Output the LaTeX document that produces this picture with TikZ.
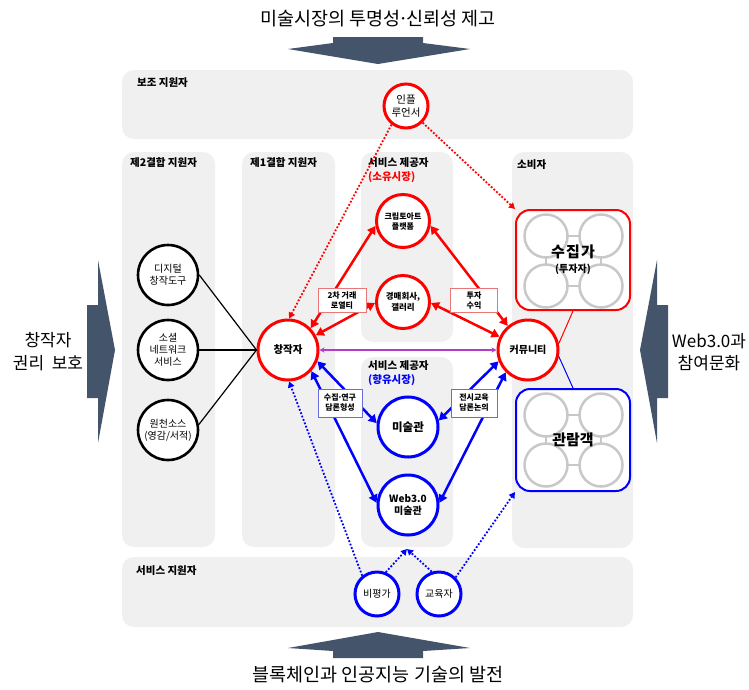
\documentclass[tikz,border=0pt]{standalone}
\usepackage{fontspec}
\setmainfont{Noto Sans CJK KR}
\usetikzlibrary{arrows.meta}
\definecolor{panel}{HTML}{F0F0F0}
\definecolor{slate}{HTML}{44546A}
\definecolor{myred}{HTML}{FF0000}
\definecolor{myblue}{HTML}{0000FF}
\definecolor{mypurple}{HTML}{B23CC8}
\definecolor{lred}{HTML}{E87878}
\definecolor{lblue}{HTML}{6B6BE0}
\definecolor{ringgray}{HTML}{C8C8C8}
\newcommand{\fs}[1]{\fontsize{#1}{#1}\selectfont}
\newcommand{\mdot}{\kern-0.14em·\kern-0.14em}
\begin{document}
\begin{tikzpicture}[x=1pt,y=-1pt,
  panelbox/.style={fill=panel, rounded corners=12pt},
  ptitle/.style={font=\bfseries\fontsize{10.5}{12}\selectfont, anchor=west, inner sep=0pt},
  rnode/.style={circle, draw=myred, line width=3pt, fill=white, inner sep=0pt, align=center},
  bnode/.style={circle, draw=myblue, line width=3pt, fill=white, inner sep=0pt, align=center},
  knode/.style={circle, draw=black, line width=2.6pt, fill=white, inner sep=0pt, align=center, minimum size=60pt, font=\fontsize{10}{12}\selectfont},
  redarrow/.style={{Triangle[length=8pt,width=9pt]}-{Triangle[length=8pt,width=9pt]}, draw=myred, line width=2.5pt},
  bluearrow/.style={{Triangle[length=8pt,width=9pt]}-{Triangle[length=8pt,width=9pt]}, draw=myblue, line width=2.5pt},
  reddot/.style={-{Triangle[length=6pt,width=6.5pt]}, draw=myred, line width=1.8pt, dash pattern=on 1.8pt off 1.8pt},
  bluedot/.style={-{Triangle[length=6pt,width=6.5pt]}, draw=myblue, line width=1.8pt, dash pattern=on 1.8pt off 1.8pt},
  rlab/.style={draw=lred, fill=white, line width=1pt, inner sep=1pt, align=center, font=\bfseries\fontsize{8}{10}\selectfont},
  blab/.style={draw=lblue, fill=white, line width=1pt, inner sep=1pt, align=center, font=\bfseries\fontsize{8}{10}\selectfont},
  ring/.style={draw=ringgray, line width=2.5pt, fill=white},
  bigarrow/.style={fill=slate}
]
\useasboundingbox (0,0) rectangle (749,689);
\fill[white] (0,0) rectangle (749,689);

% panels
\fill[panelbox] (122,70) rectangle (633,139);
\fill[panelbox] (122,152) rectangle (215,547);
\fill[panelbox] (242,152) rectangle (335,547);
\fill[panelbox] (361,152) rectangle (453,342);
\fill[panelbox] (361,357) rectangle (453,547);
\fill[panelbox] (512,152) rectangle (633,548);
\fill[panelbox] (122,557) rectangle (633,627);

% panel titles
\node[ptitle] (pt1) at (137,83) {보조 지원자};
\node[ptitle] (pt2) at (130,163) {제2결합 지원자};
\node[ptitle] (pt3) at (250,163) {제1결합 지원자};
\node[ptitle] (pt4) at (368,163) {서비스 제공자};
\node[ptitle, text=myred] (pt4b) at (368,177) {(소유시장)};
\node[ptitle] (pt5) at (368,366) {서비스 제공자};
\node[ptitle, text=myblue] (pt5b) at (368,380) {(향유시장)};
\node[ptitle] (pt6) at (517,165) {소비자};
\node[ptitle] (pt7) at (136,571) {서비스 지원자};

% big arrows
\fill[bigarrow] (333,37) -- (423,37) -- (423,43) -- (470,49) -- (378,64) -- (288,49) -- (333,43) -- cycle;
\fill[bigarrow] (378,632) -- (470,648) -- (423,651) -- (423,658) -- (333,658) -- (333,651) -- (288,648) -- cycle;
\fill[bigarrow] (87,305) -- (98,305) -- (98,260) -- (115,350) -- (98,443) -- (98,398) -- (87,398) -- cycle;
\fill[bigarrow] (668,305) -- (657,305) -- (657,260) -- (640,350) -- (657,443) -- (657,398) -- (668,398) -- cycle;

% big texts
\node[font=\fs{18.5}] (ttop) at (378,19) {미술시장의 투명성\mdot 신뢰성 제고};
\node[font=\fs{18.5}] (tbot) at (378,675) {블록체인과 인공지능 기술의 발전};
\node[align=center, font=\fontsize{17}{23}\selectfont] (tleft) at (48,352) {창작자\\권리\hspace{0.45em}보호};
\node[align=center, font=\fontsize{17}{22}\selectfont] (tright) at (709,352) {Web3.0과\\참여문화};

% nodes
\node[knode] (dig) at (168,275) {디지털\\창작도구};
\node[knode] (soc) at (168,350) {소셜\\네트워크\\서비스};
\node[knode] (src) at (168,430) {원천소스\\(영감/서적)};

\node[rnode, minimum size=60pt, font=\bfseries\fs{10.5}] (cr) at (288,350) {창작자};
\node[rnode, minimum size=60pt, font=\bfseries\fs{10}] (cm) at (528,350) {커뮤니티};
\node[rnode, minimum size=44pt, font=\fontsize{10.5}{12.5}\selectfont] (inf) at (406,106) {인플\\루언서};
\node[rnode, minimum size=53pt, font=\bfseries\fontsize{8}{10}\selectfont] (cry) at (403,221) {크립토아트\\플랫폼};
\node[rnode, minimum size=53pt, font=\bfseries\fontsize{8.5}{10.5}\selectfont] (auc) at (403,302) {경매회사,\\갤러리};
\node[bnode, minimum size=60pt, font=\bfseries\fs{11.5}] (mus) at (408,427) {미술관};
\node[bnode, minimum size=60pt, font=\bfseries\fontsize{10}{12}\selectfont] (web) at (408,505) {Web3.0\\미술관};
\node[bnode, minimum size=44pt, font=\fs{10}] (cri) at (377,594) {비평가};
\node[bnode, minimum size=44pt, font=\fs{10}] (edu) at (439,594) {교육자};

% consumer boxes
\node[draw=myred, line width=2pt, rounded corners=14pt, fill=white, minimum width=114pt, minimum height=100pt] (col) at (573,260) {};
\node[draw=myblue, line width=2pt, rounded corners=14pt, fill=white, minimum width=114pt, minimum height=102pt] (vis) at (573,440) {};
\foreach \cy in {236,286} {
  \draw[ringgray, line width=2pt] (546,\cy) -- (601,\cy);
}
\foreach \cx in {546,601} {
  \draw[ringgray, line width=2pt] (\cx,236) -- (\cx,286);
}
\foreach \cy in {415,465} {
  \draw[ringgray, line width=2pt] (546,\cy) -- (601,\cy);
}
\foreach \cx in {546,601} {
  \draw[ringgray, line width=2pt] (\cx,415) -- (\cx,465);
}
\foreach \cx in {546,601} {
  \foreach \cy in {236,286,415,465} {
    \draw[ring] (\cx,\cy) circle (21.5pt);
  }
}
\node[font=\bfseries\fs{15}] (coltxt) at (573,252) {수\kern0.08em 집\kern0.08em 가};
\node[font=\bfseries\fs{10}] (coltxt2) at (573,269) {(투자자)};
\node[font=\bfseries\fs{15}] (vistxt) at (573,440) {관람객};

% thin connectors
\draw[black, line width=1.2pt] (dig.east) -- (cr.west);
\draw[black, line width=1.2pt] (soc.east) -- (cr.west);
\draw[black, line width=1.2pt] (src.10) -- (cr.west);
\draw[myred, line width=1pt] (cm.12) -- (col.south);
\draw[myblue, line width=1pt] (cm.-12) -- (vis.north);

% thick arrows
\draw[redarrow] (cr.44) -- (cry.190);
\draw[redarrow] (cr.28) -- (auc.182);
\draw[redarrow] (cm.130) -- (cry.350);
\draw[redarrow] (cm.155) -- (auc.358);
\draw[bluearrow] (cr.-21) -- (mus.173);
\draw[bluearrow] (cr.-42) -- (web.176);
\draw[bluearrow] (cm.201) -- (mus.12);
\draw[bluearrow] (cm.225) -- (web.4);
\draw[{Stealth[length=5pt,width=5pt]}-{Stealth[length=5pt,width=5pt]}, draw=mypurple, line width=1.2pt] (cr.east) -- (cm.west);

% dotted arrows
\coordinate (peak) at (407,549);
\draw[reddot] (inf.232) -- (cr.88);
\draw[reddot] (inf.-45) -- (col.north west);
\draw[bluedot] (cri.129) -- (cr.272);
\draw[bluedot] (cri.68) -- (peak);
\draw[bluedot] (edu.108) -- (peak);
\draw[bluedot] (edu.45) -- (vis.south west);

% labels
\node[rlab, minimum width=48pt, minimum height=24pt] (l1) at (342,300) {2차 거래\\로열티};
\node[rlab, minimum width=47pt, minimum height=24pt] (l2) at (474,300) {투자\\수익};
\node[blab, minimum width=44pt, minimum height=28pt] (l3) at (340,403) {수집\mdot 연구\\담론형성};
\node[blab, minimum width=46pt, minimum height=28pt] (l4) at (474,403) {전시교육\\담론논의};
\end{tikzpicture}
\end{document}
